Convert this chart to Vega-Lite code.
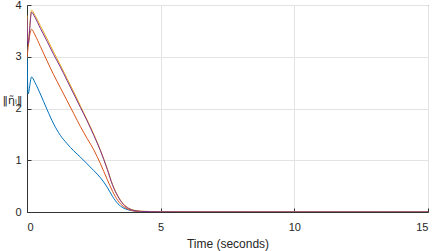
{
  "$schema": "https://vega.github.io/schema/vega-lite/v6.json",
  "width": 401,
  "height": 207,
  "autosize": "none",
  "padding": {"left": 27, "top": 5, "right": 8, "bottom": 39},
  "background": "white",
  "config": {
    "view": {"stroke": "#333333", "strokeWidth": 1},
    "font": "Liberation Sans",
    "axis": {
      "domainColor": "#333333",
      "tickColor": "#333333",
      "gridColor": "#e3e3e3",
      "labelColor": "#262626",
      "titleColor": "#262626",
      "labelFont": "Liberation Sans",
      "titleFont": "Liberation Sans",
      "labelFontSize": 11,
      "titleFontSize": 12,
      "titleFontWeight": "normal",
      "tickSize": -4
    }
  },
  "datasets": {
    "curves": [
      {"t": 0, "v": 3.2, "s": "1"}, {"t": 0.04, "v": 2.28, "s": "1"}, {"t": 0.17, "v": 2.61, "s": "1"}, {"t": 0.3, "v": 2.5, "s": "1"}, {"t": 0.5, "v": 2.28, "s": "1"}, {"t": 0.75, "v": 1.98, "s": "1"}, {"t": 1.0, "v": 1.7, "s": "1"}, {"t": 1.25, "v": 1.48, "s": "1"}, {"t": 1.5, "v": 1.32, "s": "1"}, {"t": 1.75, "v": 1.18, "s": "1"}, {"t": 2.0, "v": 1.06, "s": "1"}, {"t": 2.25, "v": 0.93, "s": "1"}, {"t": 2.5, "v": 0.8, "s": "1"}, {"t": 2.75, "v": 0.66, "s": "1"}, {"t": 3.0, "v": 0.48, "s": "1"}, {"t": 3.2, "v": 0.3, "s": "1"}, {"t": 3.4, "v": 0.16, "s": "1"}, {"t": 3.6, "v": 0.08, "s": "1"}, {"t": 3.8, "v": 0.04, "s": "1"}, {"t": 4.0, "v": 0.02, "s": "1"}, {"t": 4.3, "v": 0.008, "s": "1"}, {"t": 5.0, "v": 0.003, "s": "1"}, {"t": 15, "v": 0, "s": "1"},
      {"t": 0, "v": 2.98, "s": "2"}, {"t": 0.17, "v": 3.53, "s": "2"}, {"t": 0.3, "v": 3.42, "s": "2"}, {"t": 0.5, "v": 3.2, "s": "2"}, {"t": 0.75, "v": 2.92, "s": "2"}, {"t": 1.0, "v": 2.65, "s": "2"}, {"t": 1.25, "v": 2.4, "s": "2"}, {"t": 1.5, "v": 2.15, "s": "2"}, {"t": 1.75, "v": 1.9, "s": "2"}, {"t": 2.0, "v": 1.65, "s": "2"}, {"t": 2.25, "v": 1.42, "s": "2"}, {"t": 2.5, "v": 1.2, "s": "2"}, {"t": 2.75, "v": 0.93, "s": "2"}, {"t": 3.0, "v": 0.63, "s": "2"}, {"t": 3.2, "v": 0.4, "s": "2"}, {"t": 3.4, "v": 0.22, "s": "2"}, {"t": 3.6, "v": 0.11, "s": "2"}, {"t": 3.8, "v": 0.05, "s": "2"}, {"t": 4.0, "v": 0.02, "s": "2"}, {"t": 4.3, "v": 0.008, "s": "2"}, {"t": 5.0, "v": 0.003, "s": "2"}, {"t": 15, "v": 0, "s": "2"},
      {"t": 0, "v": 3.8, "s": "3"}, {"t": 0.04, "v": 3.3, "s": "3"}, {"t": 0.17, "v": 3.9, "s": "3"}, {"t": 0.3, "v": 3.8, "s": "3"}, {"t": 0.5, "v": 3.6, "s": "3"}, {"t": 0.75, "v": 3.35, "s": "3"}, {"t": 1.0, "v": 3.09, "s": "3"}, {"t": 1.25, "v": 2.84, "s": "3"}, {"t": 1.5, "v": 2.58, "s": "3"}, {"t": 1.75, "v": 2.32, "s": "3"}, {"t": 2.0, "v": 2.05, "s": "3"}, {"t": 2.25, "v": 1.78, "s": "3"}, {"t": 2.5, "v": 1.5, "s": "3"}, {"t": 2.75, "v": 1.19, "s": "3"}, {"t": 3.0, "v": 0.84, "s": "3"}, {"t": 3.2, "v": 0.53, "s": "3"}, {"t": 3.4, "v": 0.31, "s": "3"}, {"t": 3.6, "v": 0.16, "s": "3"}, {"t": 3.8, "v": 0.075, "s": "3"}, {"t": 4.0, "v": 0.035, "s": "3"}, {"t": 4.3, "v": 0.015, "s": "3"}, {"t": 5.0, "v": 0.006, "s": "3"}, {"t": 6.0, "v": 0.002, "s": "3"}, {"t": 15, "v": 0, "s": "3"},
      {"t": 0, "v": 3.75, "s": "4"}, {"t": 0.04, "v": 3.25, "s": "4"}, {"t": 0.17, "v": 3.86, "s": "4"}, {"t": 0.3, "v": 3.76, "s": "4"}, {"t": 0.5, "v": 3.55, "s": "4"}, {"t": 0.75, "v": 3.3, "s": "4"}, {"t": 1.0, "v": 3.04, "s": "4"}, {"t": 1.25, "v": 2.8, "s": "4"}, {"t": 1.5, "v": 2.54, "s": "4"}, {"t": 1.75, "v": 2.28, "s": "4"}, {"t": 2.0, "v": 2.02, "s": "4"}, {"t": 2.25, "v": 1.76, "s": "4"}, {"t": 2.5, "v": 1.48, "s": "4"}, {"t": 2.75, "v": 1.18, "s": "4"}, {"t": 3.0, "v": 0.83, "s": "4"}, {"t": 3.2, "v": 0.52, "s": "4"}, {"t": 3.4, "v": 0.3, "s": "4"}, {"t": 3.6, "v": 0.15, "s": "4"}, {"t": 3.8, "v": 0.07, "s": "4"}, {"t": 4.0, "v": 0.03, "s": "4"}, {"t": 4.3, "v": 0.012, "s": "4"}, {"t": 5.0, "v": 0.004, "s": "4"}, {"t": 6.0, "v": 0.001, "s": "4"}, {"t": 15, "v": 0, "s": "4"}
    ]
  },
  "data": {"name": "curves"},
  "mark": {"type": "line", "strokeWidth": 1, "interpolate": "monotone", "clip": true},
  "encoding": {
    "x": {
      "field": "t", "type": "quantitative",
      "scale": {"domain": [0, 15], "nice": false},
      "axis": {"values": [0, 5, 10, 15], "title": "Time (seconds)", "labelPadding": 13, "titlePadding": 6, "grid": true}
    },
    "y": {
      "field": "v", "type": "quantitative",
      "scale": {"domain": [0, 4], "nice": false},
      "axis": {"values": [0, 1, 2, 3, 4], "title": "‖η̃ᵢ‖", "titleFont": "DejaVu Sans", "titleAngle": 0, "titleX": -15, "titleY": 95, "titleAlign": "center", "titleBaseline": "middle", "titleFontSize": 11, "labelPadding": 10, "grid": true}
    },
    "color": {
      "field": "s", "type": "nominal",
      "scale": {"domain": ["1", "2", "3", "4"], "range": ["#0072BD", "#D95319", "#EDB120", "#7E2F8E"]},
      "legend": null
    },
    "order": {"field": "t", "type": "quantitative"}
  }
}
